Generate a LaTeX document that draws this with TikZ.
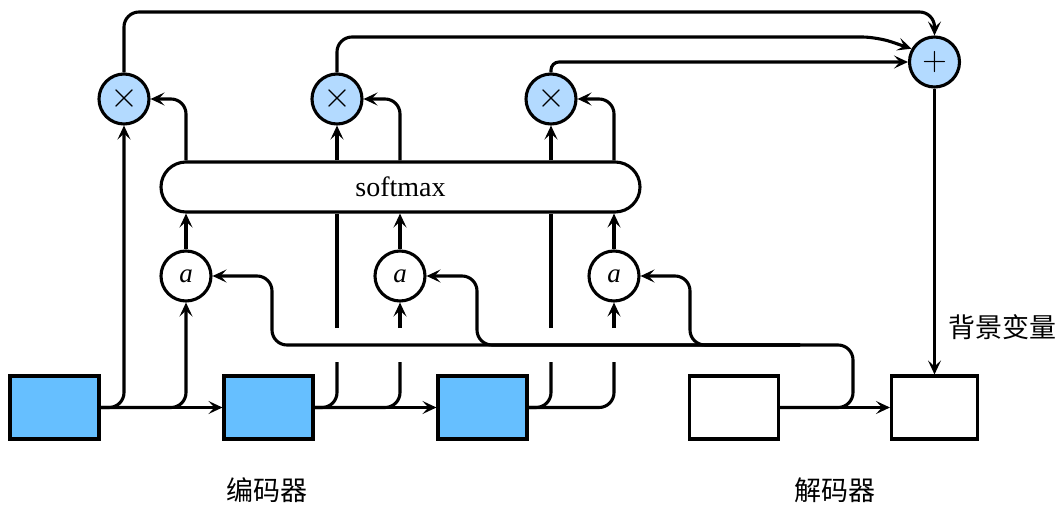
\RequirePackage{fix-cm}
\documentclass[tikz,border=0pt]{standalone}
\usepackage{fontspec}
\setmainfont{Liberation Serif}
\newfontfamily\cjk{Noto Sans CJK SC}
\usetikzlibrary{arrows.meta}
\definecolor{encblue}{HTML}{66BFFF}
\definecolor{opblue}{HTML}{B3DAFF}
\tikzset{
  ln/.style={line width=3.1pt, rounded corners=15pt},
  arr/.style={ln, -{Stealth[length=14pt,width=13pt,inset=6pt]}},
  blk/.style={draw, line width=3.1pt, minimum width=89pt, minimum height=63pt, inner sep=0pt},
  enc/.style={blk, fill=encblue},
  dec/.style={blk, fill=white},
  op/.style={draw, circle, line width=3.1pt, fill=opblue, minimum size=50pt, inner sep=0pt},
  sc/.style={draw, circle, line width=3.1pt, fill=white, minimum size=50pt, inner sep=0pt, font=\fontsize{27}{30}\selectfont\itshape},
  smx/.style={draw, line width=3.1pt, rounded corners=25pt, fill=white, minimum width=479pt, minimum height=50pt, inner sep=0pt, font=\fontsize{28}{30}\selectfont},
  lab/.style={font=\cjk\fontsize{27}{30}\selectfont, inner sep=0pt}
}
\begin{document}
\begin{tikzpicture}[x=1pt,y=-1pt]
\useasboundingbox[fill=white] (0,0) rectangle (1059,505);
% blocks
\node[enc] (e1) at (54.5,407.5) {};
\node[enc] (e2) at (268.5,407.5) {};
\node[enc] (e3) at (482.5,407.5) {};
\node[dec] (d1) at (734,407.5) {};
\node[dec, minimum width=86pt] (d2) at (934.5,407.5) {};
% softmax
\node[smx] (sm) at (400.5,187) {softmax};
% multiplication and sum
\node[op] (m1) at (124,99) {\fontsize{36}{36}\selectfont$\times$};
\node[op] (m2) at (337,99) {\fontsize{36}{36}\selectfont$\times$};
\node[op] (m3) at (551,99) {\fontsize{36}{36}\selectfont$\times$};
\node[op] (p) at (934.5,62) {\fontsize{34}{34}\selectfont$+$};
% scores
\node[sc] (a1) at (186,276) {a};
\node[sc] (a2) at (400,276) {a};
\node[sc] (a3) at (614,276) {a};
% labels
\node[lab] (lenc) at (267,490) {编码器};
\node[lab] (ldec) at (835,490) {解码器};
\node[lab] (lctx) at (1002,327) {背景变量};
% coordinates
\coordinate (g2l) at (337,362); \coordinate (g2u) at (337,328);
\coordinate (h2l) at (400,362); \coordinate (h2u) at (400,328);
\coordinate (g3l) at (551,362); \coordinate (g3u) at (551,328);
\coordinate (h3l) at (614,362); \coordinate (h3u) at (614,328);
\coordinate (qr) at (853,345);
\coordinate (qs) at (800,345);
\coordinate (b1) at (272,276);
\coordinate (b2) at (477,276);
\coordinate (b3) at (690,276);
\coordinate (t1) at (934.5,12);
\coordinate (t2) at (877,37);
% encoder chain
\draw[arr] (e1.east) -- (e2.west);
\draw[arr] (e2.east) -- (e3.west);
% column 1
\draw[arr] (e1.east) -| (m1.south);
\draw[arr] (e1.east) -| (a1.south);
\draw[arr] (a1.north) -- (sm.south -| a1.north);
\draw[arr] (sm.north -| a1.north) |- (m1.east);
% column 2
\draw[ln] (e2.east) -| (g2l);
\draw[ln] (g2u) -- (sm.south -| g2u);
\draw[ln] (e2.east) -| (h2l);
\draw[arr] (h2u) -- (a2.south);
\draw[arr] (a2.north) -- (sm.south -| a2.north);
\draw[arr] (sm.north -| m2.south) -- (m2.south);
\draw[arr] (sm.north -| a2.north) |- (m2.east);
% column 3
\draw[ln] (e3.east) -| (g3l);
\draw[ln] (g3u) -- (sm.south -| g3u);
\draw[ln] (e3.east) -| (h3l);
\draw[arr] (h3u) -- (a3.south);
\draw[arr] (a3.north) -- (sm.south -| a3.north);
\draw[arr] (sm.north -| m3.south) -- (m3.south);
\draw[arr] (sm.north -| a3.north) |- (m3.east);
% decoder
\draw[arr] (d1.east) -- (d2.west);
\draw[arr] (d1.east) -| (qr) -| (b1) -- (a1.east);
\draw[arr] (qs) -| (b2) -- (a2.east);
\draw[arr] (qs) -| (b3) -- (a3.east);
% sum
\draw[arr] (m1.north) |- (t1) -- (p.north);
\draw[arr] (m2.north) |- (t2) -- (p.150);
\draw[arr, rounded corners=8pt] (m3.north) |- (p.west);
\draw[arr] (p.south) -- (d2.north);
\end{tikzpicture}
\end{document}
